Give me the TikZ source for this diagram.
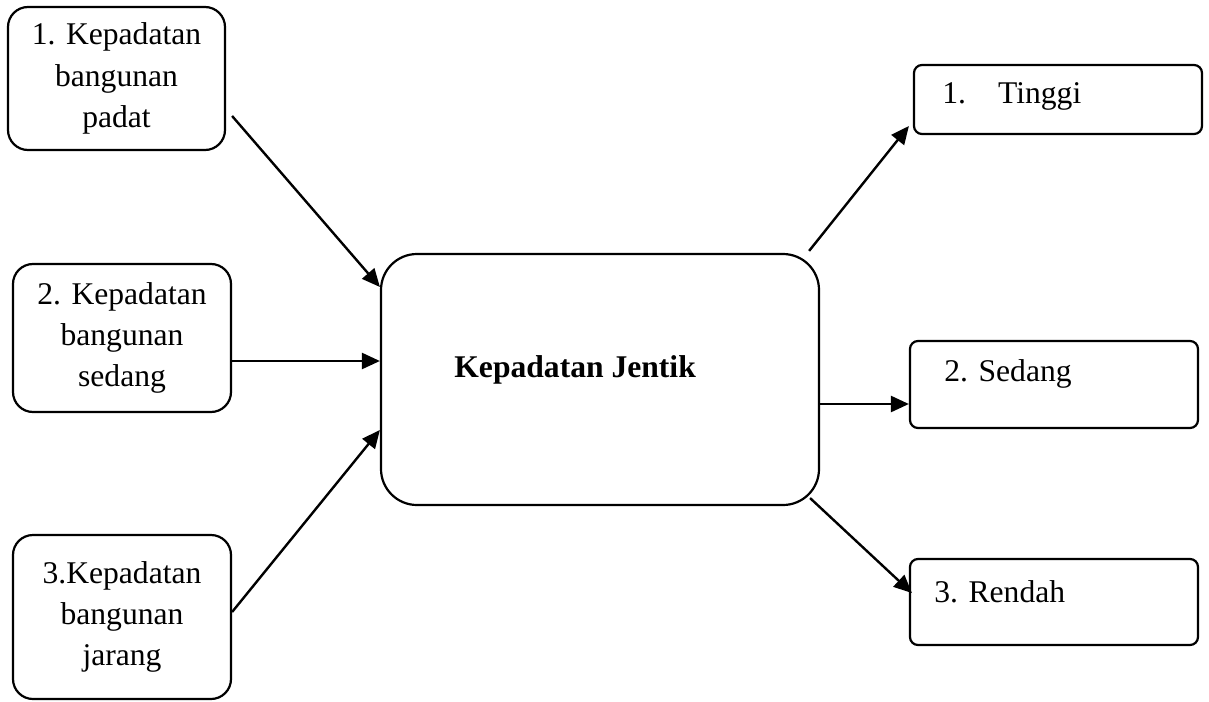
\documentclass[tikz,border=0pt]{standalone}
\usepackage{fontspec}
\setmainfont{Liberation Serif}
\usetikzlibrary{arrows.meta,calc}
\begin{document}
\begin{tikzpicture}[x=0.5pt,y=-0.5pt,
  every node/.style={font=\fontsize{15.8pt}{20.6pt}\selectfont},
  leftbox/.style={draw,line width=1.1pt,rounded corners=10pt,align=center,inner sep=0pt},
  mainbox/.style={draw,line width=1.1pt,rounded corners=18pt,inner sep=0pt},
  rightbox/.style={draw,line width=1.1pt,rounded corners=4pt,inner sep=0pt},
  txt/.style={inner sep=0pt,anchor=base west},
  conn/.style={line width=1.2pt,-{Triangle[length=9pt,width=8pt]}}]
\useasboundingbox (0,0) rectangle (1209,701);
% left boxes
\node[leftbox,minimum width=108.5pt,minimum height=71.5pt] (b1) at (116.5,78.5)
  {1. Kepadatan\\bangunan\\padat};
\node[leftbox,minimum width=109pt,minimum height=74pt] (b2) at (122,338)
  {2. Kepadatan\\bangunan\\sedang};
\node[leftbox,minimum width=109pt,minimum height=82pt] (b3) at (122,617)
  {3.Kepadatan\\bangunan\\jarang};
% centre box
\node[mainbox,minimum width=219pt,minimum height=125.5pt] (c) at (600,379.5) {};
\node[txt] (ct) at (454,377) {\textbf{Kepadatan Jentik}};
% right boxes
\node[rightbox,minimum width=144pt,minimum height=34.5pt] (r1) at (1058,99.5) {};
\node[txt] (r1t) at (942,104) {1.\hspace{16pt}Tinggi};
\node[rightbox,minimum width=144pt,minimum height=43.5pt] (r2) at (1054,384.5) {};
\node[txt] (r2t) at (944,381) {2. Sedang};
\node[rightbox,minimum width=144pt,minimum height=43pt] (r3) at (1054,602) {};
\node[txt] (r3t) at (934,602) {3. Rendah};
% connectors
\draw[conn] ($(b1.east)+(6,37.5)$) -- ($(c.west)+(0,-92.5)$);
\draw[conn] ($(b2.east)+(0,23)$) -- ($(c.west)+(0,-18.5)$);
\draw[conn] ($(b3.east)+(0,-5)$) -- ($(c.west)+(0,50.5)$);
\draw[conn] ($(c.north east)+(-11,-2)$) -- ($(r1.west)+(-4,26.5)$);
\draw[conn] ($(c.east)+(0,24.5)$) -- ($(r2.west)+(0,19.5)$);
\draw[conn] ($(c.south east)+(-10,-8)$) -- ($(r3.west)+(3,-9)$);
\end{tikzpicture}
\end{document}
